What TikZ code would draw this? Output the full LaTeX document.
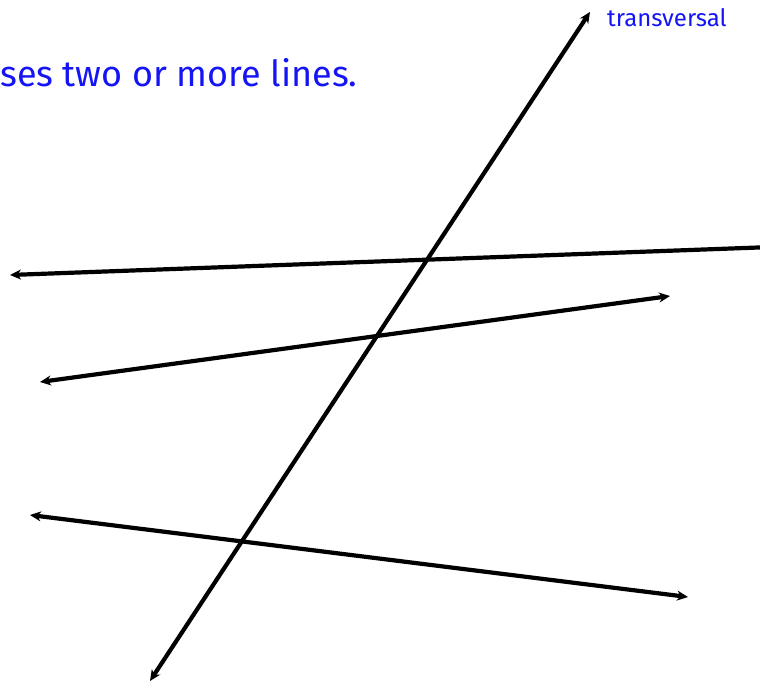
\documentclass[tikz,border=0pt]{standalone}
\usepackage{fontspec}
\setmainfont{Fira Sans}
\usetikzlibrary{arrows.meta}
\definecolor{txtblue}{RGB}{20,20,245}
\tikzset{
  ln/.style={line width=4.2pt, {Stealth[length=11pt,width=10pt]}-{Stealth[length=11pt,width=10pt]}},
  lbl/.style={text=txtblue, inner sep=0pt}
}
\begin{document}
\begin{tikzpicture}[x=1pt,y=-1pt]
\useasboundingbox (0,0) rectangle (760,684);
\clip (0,0) rectangle (760,684);
\coordinate (t1) at (150,681);
\coordinate (t2) at (590,12);
\coordinate (a1) at (10,275);
\coordinate (a2) at (772,247);
\coordinate (b1) at (40,382);
\coordinate (b2) at (670,296);
\coordinate (c1) at (30,515);
\coordinate (c2) at (688,597);
\draw[ln] (t1) -- (t2);
\draw[ln] (a1) -- (a2);
\draw[ln] (b1) -- (b2);
\draw[ln] (c1) -- (c2);
\node[lbl, anchor=base west, font=\fontsize{36}{42}\selectfont] (title) at (0,87) {ses two or more lines.};
\node[lbl, anchor=base west, font=\fontsize{24}{28}\selectfont] (tlab) at (607,27) {transversal};
\end{tikzpicture}
\end{document}
